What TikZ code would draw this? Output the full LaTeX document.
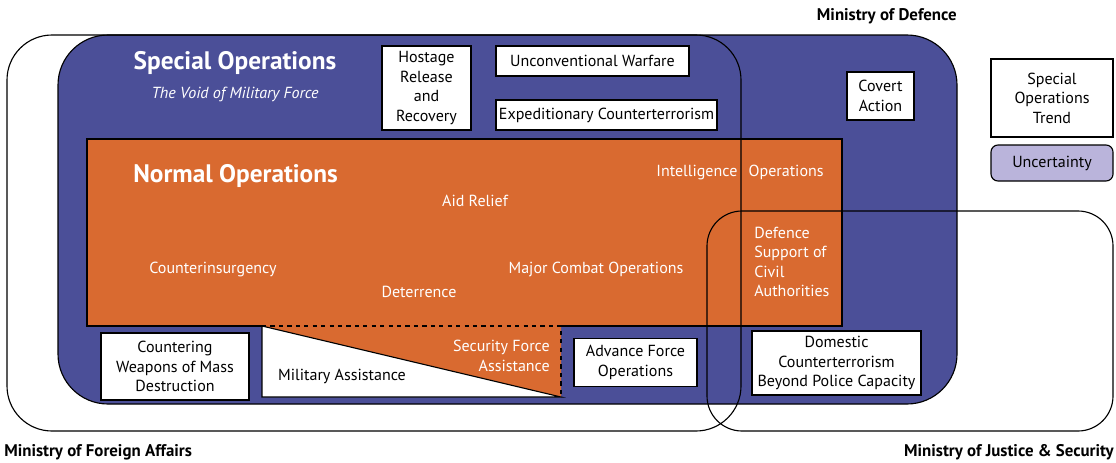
\documentclass[tikz,border=0pt]{standalone}
\usepackage{fontspec}
\setmainfont{PT Sans}
\definecolor{defblue}{RGB}{75,79,152}
\definecolor{normorange}{RGB}{217,106,48}
\definecolor{uncertlilac}{RGB}{186,180,219}
\tikzset{
    opbox/.style={
        rectangle, draw=black, line width=0.8pt,
        fill=white, align=center, inner sep=1pt,
        font=\fontsize{11.4}{13.8}\selectfont
    },
    legendbox/.style={opbox, rounded corners=5pt, fill=uncertlilac},
    region/.style={draw=black, line width=0.8pt},
    oplabel/.style={text=white, inner sep=0pt, font=\fontsize{11.4}{13.8}\selectfont},
    heading/.style={text=white, inner sep=0pt, font=\fontsize{18}{20}\selectfont\bfseries},
    ministry/.style={inner sep=0pt, font=\fontsize{12}{14}\selectfont\bfseries}
}
\begin{document}
\begin{tikzpicture}[x=0.025cm, y=-0.025cm]
\useasboundingbox (0,0) rectangle (1116,462);

% Ministry of Defence
\draw[region, fill=defblue, rounded corners=1.25cm] (58,35) rectangle (957,404);

% Normal operations
\fill[normorange] (87,139) -- (842,139) -- (842,326) -- (561,326) -- (561,397)
    -- (262,326) -- (87,326) -- cycle;
\draw[region, fill=white] (262,326) -- (561,397) -- (262,397) -- cycle;
\draw[region] (561,326) -- (842,326) -- (842,139) -- (87,139) -- (87,326) -- (262,326);
\draw[region, dashed] (262,326) -- (561,326) -- (561,397);

% Boxes
\node[opbox, minimum width=2.225cm, minimum height=2.1cm] (hostage) at (426.5,88) {Hostage\\Release\\and\\Recovery};
\node[opbox, minimum width=4.825cm, minimum height=0.75cm] (unconv) at (592.5,61) {Unconventional Warfare};
\node[opbox, minimum width=5.525cm, minimum height=0.75cm] (expct) at (606.5,115) {Expeditionary Counterterrorism};
\node[opbox, minimum width=1.675cm, minimum height=1.2cm] (covert) at (880.5,96) {Covert\\Action};
\node[opbox, minimum width=3.7cm, minimum height=1.675cm] (cwmd) at (175,366.5) {Countering\\Weapons of Mass\\Destruction};
\node[opbox, minimum width=3.075cm, minimum height=1.2cm] (advforce) at (635.5,362.5) {Advance Force\\Operations};
\node[opbox, minimum width=4.225cm, minimum height=1.6cm] (domestic) at (836.5,363) {Domestic\\Counterterrorism\\Beyond Police Capacity};

% Legend
\node[opbox, minimum width=3.05cm, minimum height=1.95cm] (trend) at (1052,98) {Special\\Operations\\Trend};
\node[legendbox, minimum width=3.05cm, minimum height=0.9cm] (uncert) at (1052,163) {Uncertainty};

% Foreign Affairs and Justice outlines
\draw[region, rounded corners=1.125cm] (7,35) rectangle (741,431);
\draw[region, rounded corners=0.875cm] (707,211) rectangle (1113,431);

% Labels
\node[heading] (specops) at (235,63) {Special Operations};
\node[oplabel, font=\fontsize{11.4}{13.8}\selectfont\itshape] (void) at (235,94) {The Void of Military Force};
\node[heading, anchor=west] (normops) at (133,176) {Normal Operations};
\node[oplabel] (aid) at (475,201) {Aid Relief};
\node[oplabel] (intel) at (740,172) {Intelligence\hspace{8pt}Operations};
\node[oplabel] (coin) at (213,269) {Counterinsurgency};
\node[oplabel] (deter) at (419,292) {Deterrence};
\node[oplabel] (mco) at (596,269) {Major Combat Operations};
\node[oplabel, align=left, anchor=west] (dsca) at (754,262) {Defence\\Support of\\Civil\\Authorities};
\node[inner sep=0pt, font=\fontsize{11.4}{13.8}\selectfont] (milassist) at (342,376) {Military Assistance};
\node[oplabel, align=right, anchor=east] (sfa) at (550,356) {Security Force\\Assistance};

\node[ministry, anchor=east] (mod) at (957,16) {Ministry of Defence};
\node[ministry, anchor=west] (mofa) at (4,452) {Ministry of Foreign Affairs};
\node[ministry, anchor=east] (mojs) at (1114,452) {Ministry of Justice \& Security};
\end{tikzpicture}
\end{document}
